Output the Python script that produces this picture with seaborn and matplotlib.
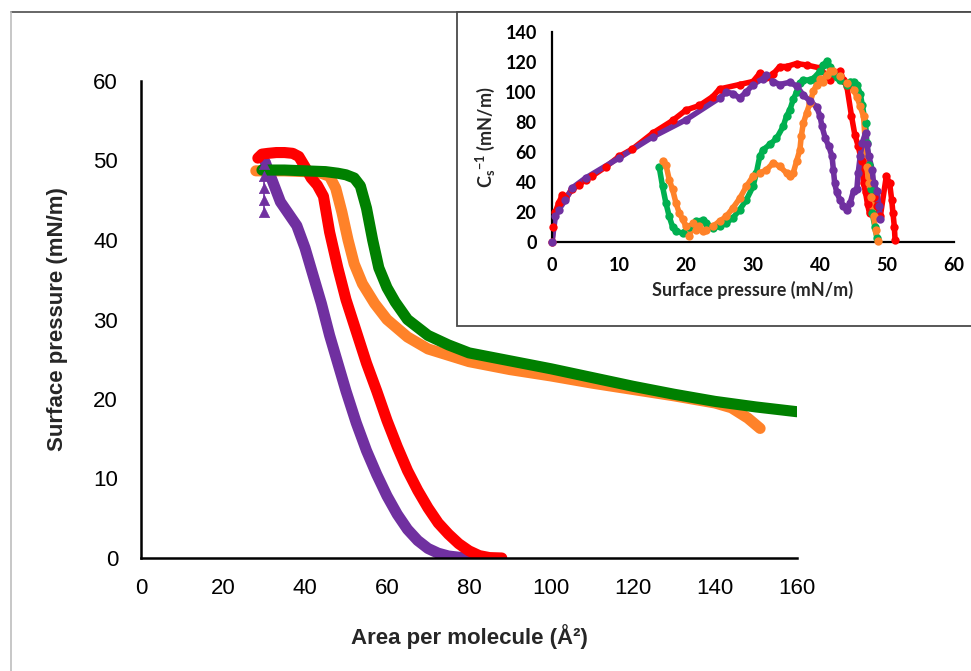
import matplotlib
matplotlib.use("Agg")
import matplotlib.pyplot as plt
from matplotlib.lines import Line2D
from matplotlib.patches import Rectangle
import seaborn as sns
import pandas as pd

# ---------------- main isotherm data (area per molecule, surface pressure) ----------------
green_area = [29.5, 35, 40, 45, 48, 50, 52, 53.5, 55, 56.5, 58, 60, 62, 65, 70, 75, 80, 90, 100, 110, 120, 130, 140, 150, 160]
green_p = [48.8, 48.8, 48.7, 48.6, 48.4, 48.2, 47.8, 46.8, 44, 40, 36.5, 34, 32.2, 30, 28, 26.8, 25.8, 24.8, 23.8, 22.7, 21.6, 20.6, 19.7, 19.0, 18.4]

orange_area = [28, 35, 40, 44, 46, 47.5, 49, 50.5, 52, 54, 57, 60, 65, 70, 80, 90, 100, 110, 120, 130, 140, 144, 148, 151]
orange_p = [48.7, 48.7, 48.6, 48.4, 48.0, 46.5, 43.5, 40, 37, 34.5, 32, 30, 27.8, 26.3, 24.7, 23.7, 22.9, 22.0, 21.2, 20.4, 19.5, 18.9, 17.6, 16.3]

red_area = [28.5, 29.5, 31, 33, 35, 37, 38.5, 40, 41.5, 43, 44.5, 46, 48, 50, 52.5, 55, 57.5, 60, 62.5, 65, 67.5, 70, 72.5, 75, 77.5, 80, 82.5, 85, 88]
red_p = [50.3, 50.8, 50.9, 51.0, 51.0, 50.9, 50.5, 49.2, 47.8, 46.9, 45.5, 41, 36.5, 32.5, 28.5, 24.5, 21, 17.3, 14, 11, 8.5, 6.3, 4.4, 3, 1.8, 0.9, 0.3, 0.05, 0]

purple_stack_area = [30, 30, 30, 30, 30]
purple_stack_p = [43.5, 45, 46.5, 48, 49.5]
purple_area = [30.3, 31, 32, 34, 36, 38, 40, 42, 44, 46, 48, 50, 52.5, 55, 57.5, 60, 62.5, 65, 67.5, 70, 72.5, 75, 77.5, 80, 82]
purple_p = [49.8, 48.8, 47.5, 44.8, 43.3, 41.8, 39, 35.5, 32, 28, 24.5, 21, 17, 13.5, 10.5, 7.8, 5.5, 3.6, 2.2, 1.2, 0.6, 0.25, 0.1, 0.02, 0]

# ---------------- inset compressibility data (surface pressure, Cs^-1) ----------------
red_ip = [0, 0.2, 0.5, 1, 1.5, 2, 3, 4, 5, 6, 8, 10, 12, 15, 18, 20, 22, 24, 25, 28, 30, 31, 32, 33, 34, 35, 36.5, 38, 40, 41.5, 43, 43.5, 44, 44.7, 45.2, 45.7, 46.2, 46.5, 46.8, 47.1, 47.4, 48, 48.5, 49, 49.9, 50.4, 50.7, 50.9, 51.1, 51.2]
red_ic = [0, 10, 20, 26, 31, 29, 35, 38, 41.5, 44, 50, 57, 62, 72.5, 81, 88, 91, 97, 102, 105, 107, 112.5, 110, 112, 117, 117, 119, 118, 116, 108, 114, 108, 104, 84, 71.5, 64, 54, 39, 33, 25, 19, 30, 24, 17, 44, 39, 28, 19, 10, 1.5]

purple_ip = [0, 0.5, 1, 2, 3, 5, 10, 15, 20, 25, 26, 27, 28, 29, 30, 31.5, 32, 33, 34, 35.5, 36.5, 37.5, 38.5, 39.5, 40, 40.3, 40.8, 41.3, 41.8, 42, 42.2, 42.5, 43, 43.5, 44, 44.5, 45, 45.5, 45.7, 46, 46.3, 46.8, 47, 47.3, 47.8, 48, 48.5, 48.8, 49]
purple_ic = [0, 17, 21.5, 28, 36, 42.6, 56, 70, 81.5, 96, 100, 99, 96, 100, 105, 109, 111.5, 107, 105, 106.5, 104, 98, 94, 90, 84, 77, 69, 64, 57, 48, 39, 33, 28, 24, 21.5, 26, 34, 35, 46, 57, 66, 72.7, 65, 57, 48, 39, 34, 24, 15]

green_ip = [16, 16.5, 17, 17.5, 18, 18.5, 19.5, 20.5, 21.5, 22.5, 23, 24, 25, 26, 27, 28, 29, 30, 30.5, 31, 31.5, 32.5, 33.5, 34.5, 35, 35.5, 36, 36.5, 37, 37.5, 38.5, 39, 40, 40.5, 41, 41.5, 42, 42.5, 43, 44, 44.5, 45, 45.5, 46, 46.3, 46.8, 47, 47.3, 47.6, 47.8, 48.2, 48.5]
green_ic = [50, 37, 26, 17, 10, 7, 6, 10, 14, 14.5, 12.7, 9.3, 10.5, 12.7, 16, 21.5, 28, 37, 46, 57, 61.5, 65, 69, 77, 84, 88, 95, 100, 106, 108, 108, 109, 113.8, 118, 120.4, 117, 112.7, 110, 108, 105, 107, 107, 105, 99, 91.5, 79, 66, 51.6, 35, 19, 10, 2.7]

orange_ip = [16.5, 17, 17.5, 18, 18.5, 19, 19.5, 20, 20.5, 21, 21.5, 22, 22.5, 23, 24, 25, 26, 27, 28, 29, 30, 31, 32, 33, 34, 35, 35.5, 36, 36.5, 37, 37.2, 37.5, 38, 38.5, 39, 39.5, 40, 40.5, 41, 41.5, 42, 43, 44, 45, 45.5, 46, 46.5, 47, 47.3, 47.6, 48, 48.3, 48.6]
orange_ic = [54, 51.5, 41.5, 35, 26, 19.3, 15, 10.4, 3.8, 12.7, 8.2, 10.4, 7, 8, 10.4, 13.8, 17, 22.7, 29, 37, 43.8, 46, 48, 52.7, 50.4, 46, 43.8, 46, 53.8, 61.5, 70.4, 79, 86, 92.7, 100.4, 105, 109, 107, 111.5, 113.8, 113.8, 110.4, 106, 101.5, 97, 90.4, 83.8, 50, 39, 30, 17, 8.2, 0.4]

x_ticks = [0, 20, 40, 60, 80, 100, 120, 140, 160]
y_ticks = [0, 10, 20, 30, 40, 50, 60]
ix_ticks = [0, 10, 20, 30, 40, 50, 60]
iy_ticks = [0, 20, 40, 60, 80, 100, 120, 140]

GREEN = "#008000"
ORANGE = "#FF8229"
RED = "#FF0000"
PURPLE = "#7030A0"
IGREEN = "#00B050"

sns.set_style("white")
plt.rcParams["font.family"] = ["Liberation Sans", "DejaVu Sans"]

fig = plt.figure(figsize=(9.71, 6.71), dpi=100)

# outer frame lines
fig.add_artist(Line2D([11/971, 1.0], [1-12/671, 1-12/671], color="#5a5a5a", lw=1.3))
fig.add_artist(Line2D([11/971, 11/971], [0, 1-12/671], color="#bdbdbd", lw=1.2))

ax = fig.add_axes([141/971, 1-558/671, 656/971, 477/671])

def main_curve(x, y, color):
    df = pd.DataFrame({"x": x, "y": y})
    sns.lineplot(data=df, x="x", y="y", ax=ax, color=color, lw=8, sort=False,
                 estimator=None, solid_capstyle="round", solid_joinstyle="round")

main_curve(orange_area, orange_p, ORANGE)
main_curve(purple_area, purple_p, PURPLE)
df_stack = pd.DataFrame({"x": purple_stack_area, "y": purple_stack_p})
sns.lineplot(data=df_stack, x="x", y="y", ax=ax, color=PURPLE, lw=1.2, sort=False, estimator=None)
sns.scatterplot(data=df_stack, x="x", y="y", ax=ax, color=PURPLE, marker="^", s=55,
                edgecolor=PURPLE, linewidth=0.5, zorder=3)
main_curve(red_area, red_p, RED)
main_curve(green_area, green_p, GREEN)

ax.set_xlim(0, 160)
ax.set_ylim(0, 60)
ax.set_xticks(x_ticks)
ax.set_yticks(y_ticks)
ax.set_xticklabels([str(t) for t in x_ticks])
ax.set_yticklabels([str(t) for t in y_ticks])
for s in ["top", "right"]:
    ax.spines[s].set_visible(False)
for s in ["left", "bottom"]:
    ax.spines[s].set_color("black")
    ax.spines[s].set_linewidth(1.8)
ax.tick_params(axis="both", direction="inout", length=9, width=1.8, colors="black",
               labelsize=16)
ax.tick_params(axis="x", pad=10)
ax.tick_params(axis="y", pad=12)
ax.set_xlabel("Area per molecule (Å²)", fontsize=16, fontweight="bold", labelpad=18)
ax.set_ylabel("Surface pressure (mN/m)", fontsize=16, fontweight="bold", labelpad=18)
ax.patch.set_alpha(0)

# inset frame box
fig.add_artist(Rectangle((457/971, 1-326/671), 1.0 - 457/971 + 0.01, (326-12)/671,
                         transform=fig.transFigure, facecolor="white",
                         edgecolor="#4a4a4a", lw=1.3, zorder=5))

iax = fig.add_axes([552/971, 1-242/671, 402/971, 210/671], zorder=6)
iax.patch.set_alpha(0)

def inset_curve(x, y, color):
    df = pd.DataFrame({"x": x, "y": y})
    sns.lineplot(data=df, x="x", y="y", ax=iax, color=color, lw=4, sort=False,
                 estimator=None, solid_capstyle="round", solid_joinstyle="round")
    sns.scatterplot(data=df, x="x", y="y", ax=iax, color=color, marker="o", s=36,
                    linewidth=0, zorder=3, clip_on=False)

inset_curve(red_ip, red_ic, RED)
inset_curve(green_ip, green_ic, IGREEN)
inset_curve(orange_ip, orange_ic, ORANGE)
inset_curve(purple_ip, purple_ic, PURPLE)

IFONT = ["Lato", "DejaVu Sans"]
iax.set_xlim(0, 60)
iax.set_ylim(0, 140)
iax.set_xticks(ix_ticks)
iax.set_yticks(iy_ticks)
iax.set_xticklabels([str(t) for t in ix_ticks], family=IFONT, fontweight="bold", fontsize=13)
iax.set_yticklabels([str(t) for t in iy_ticks], family=IFONT, fontweight="bold", fontsize=13)
for s in ["top", "right"]:
    iax.spines[s].set_visible(False)
for s in ["left", "bottom"]:
    iax.spines[s].set_color("black")
    iax.spines[s].set_linewidth(1.6)
iax.tick_params(axis="both", direction="out", length=6, width=1.6, colors="black", pad=5)
iax.set_xlabel("Surface pressure (mN/m)", family=IFONT, fontweight="bold", fontsize=13, labelpad=5)
iax.set_ylabel(r"C$_\mathregular{s}$$^\mathregular{-1}$ (mN/m)", family=IFONT,
               fontweight="bold", fontsize=13, labelpad=6)

fig.savefig("out.png", dpi=100)
